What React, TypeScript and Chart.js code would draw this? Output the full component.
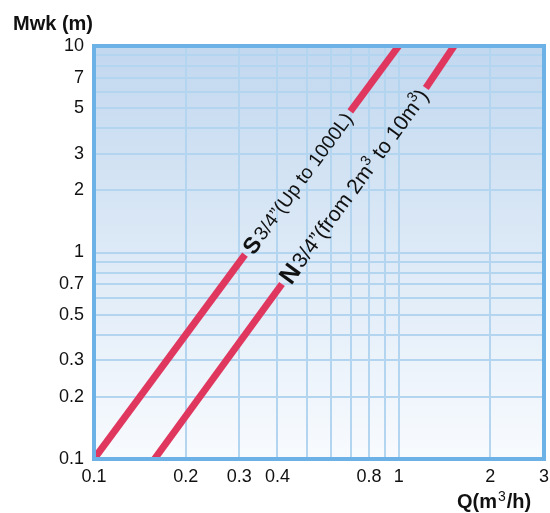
import React, { useEffect, useRef } from "react";
import Chart from "chart.js/auto";

// Grid lines and tick labels
const xGrid = [0.1, 0.2, 0.3, 0.4, 0.5, 0.6, 0.7, 0.8, 0.9, 1, 2, 3];
const xLabels = [0.1, 0.2, 0.3, 0.4, 0.8, 1, 2, 3];
const yGrid = [0.1, 0.2, 0.3, 0.4, 0.5, 0.6, 0.7, 0.8, 0.9, 1, 2, 3, 4, 5, 6, 7, 8, 9, 10];
const yLabels = [0.1, 0.2, 0.3, 0.5, 0.7, 1, 2, 3, 5, 7, 10];

// Curve S 3/4" (flow Q m3/h, head Mwk m), split around its label
const sLowQ = [0.1, 0.313];
const sLowH = [0.1, 0.977];
const sHighQ = [0.694, 1.0];
const sHighH = [4.82, 10];

// Curve N 3/4"
const nLowQ = [0.158, 0.414];
const nLowH = [0.1, 0.704];
const nHighQ = [1.228, 1.52];
const nHighH = [6.26, 10];

const RED = "#E0375F";

type Part = { t: string; bold?: boolean; sup?: boolean };
const sLabel: Part[] = [{ t: "S", bold: true }, { t: "3/4”(Up to 1000L)" }];
const nLabel: Part[] = [
  { t: "N", bold: true },
  { t: "3/4”(from 2m" },
  { t: "3", sup: true },
  { t: " to 10m" },
  { t: "3", sup: true },
  { t: ")" },
];

const pts = (q: number[], h: number[]) => q.map((x, i) => ({ x, y: h[i] }));

const FONT = "'Liberation Sans', Arial, sans-serif";

function fontFor(p: Part, size: number) {
  if (p.bold) return `bold ${size * 1.18}px ${FONT}`;
  if (p.sup) return `${size * 0.68}px ${FONT}`;
  return `${size}px ${FONT}`;
}

function drawLabel(ctx: CanvasRenderingContext2D, chart: any, q0: number, h0: number, q1: number, h1: number, parts: Part[]) {
  const xs = chart.scales.x, ys = chart.scales.y;
  const x0 = xs.getPixelForValue(q0), y0 = ys.getPixelForValue(h0);
  const x1 = xs.getPixelForValue(q1), y1 = ys.getPixelForValue(h1);
  const ang = Math.atan2(y1 - y0, x1 - x0);
  const len = Math.hypot(x1 - x0, y1 - y0);
  // fit text into the gap
  const measure = (size: number) => {
    let w = 0;
    parts.forEach((p) => {
      ctx.font = fontFor(p, size);
      w += ctx.measureText(p.t).width + (p.bold ? 2 : 0);
    });
    return w;
  };
  const size = 20 * (len - 8) / measure(20);
  ctx.save();
  ctx.translate(x0, y0);
  ctx.rotate(ang);
  ctx.fillStyle = "#111";
  ctx.textBaseline = "alphabetic";
  let cx = 4;
  const base = size * 0.36;
  parts.forEach((p) => {
    ctx.font = fontFor(p, size);
    const dy = p.sup ? base - size * 0.4 : base + (p.bold ? 1 : 0);
    ctx.fillText(p.t, cx, dy);
    cx += ctx.measureText(p.t).width + (p.bold ? 2 : 0);
  });
  ctx.restore();
}

const decor = {
  id: "decor",
  beforeDraw(chart: any) {
    const { ctx, chartArea: a } = chart;
    const g = ctx.createLinearGradient(0, a.top, 0, a.bottom);
    g.addColorStop(0, "#C2D8EF");
    g.addColorStop(1, "#F8FBFE");
    ctx.save();
    ctx.fillStyle = g;
    ctx.fillRect(a.left, a.top, a.right - a.left, a.bottom - a.top);
    ctx.restore();
  },
  afterDraw(chart: any) {
    const { ctx, chartArea: a } = chart;
    ctx.save();
    ctx.strokeStyle = "#6DB2E6";
    ctx.lineWidth = 4;
    ctx.strokeRect(a.left, a.top, a.right - a.left, a.bottom - a.top);
    // axis titles
    ctx.fillStyle = "#111";
    ctx.textBaseline = "alphabetic";
    ctx.font = `bold 20px ${FONT}`;
    ctx.fillText("Mwk (m)", 13, 30);
    let x = 457;
    const by = 508;
    ctx.fillText("Q(m", x, by);
    x += ctx.measureText("Q(m").width;
    ctx.font = `14px ${FONT}`;
    ctx.fillText("3", x + 1, by - 7);
    x += ctx.measureText("3").width + 2;
    ctx.font = `bold 20px ${FONT}`;
    ctx.fillText("/h)", x, by);
    ctx.restore();
    drawLabel(ctx, chart, sLowQ[1], sLowH[1], sHighQ[0], sHighH[0], sLabel);
    drawLabel(ctx, chart, nLowQ[1], nLowH[1], nHighQ[0], nHighH[0], nLabel);
  },
};

export default function App() {
  const ref = useRef<HTMLCanvasElement>(null);
  useEffect(() => {
    document.body.style.margin = "0";
    const lineDs = (data: any) => ({
      data,
      borderColor: RED,
      borderWidth: 7,
      pointRadius: 0,
      borderCapStyle: "butt" as const,
      fill: false,
      tension: 0,
    });
    const chart = new Chart(ref.current!, {
      type: "line",
      data: {
        datasets: [
          lineDs(pts(sLowQ, sLowH)),
          lineDs(pts(sHighQ, sHighH)),
          lineDs(pts(nLowQ, nLowH)),
          lineDs(pts(nHighQ, nHighH)),
        ],
      },
      options: {
        responsive: false,
        animation: false,
        events: [],
        layout: { padding: { top: 46, right: 0, left: 0, bottom: 0 } },
        plugins: { legend: { display: false }, tooltip: { enabled: false } },
        scales: {
          x: {
            type: "logarithmic",
            min: 0.1,
            max: 3,
            afterBuildTicks: (s: any) => { s.ticks = xGrid.map((v) => ({ value: v })); },
            afterFit: (s: any) => { s.height = 54; s.paddingRight = 6; },
            ticks: {
              autoSkip: false,
              maxRotation: 0,
              padding: 7,
              color: "#111",
              font: { family: FONT, size: 18 },
              callback: (v: any) => (xLabels.includes(Number(v)) ? String(v) : ""),
            },
            grid: { color: "#B3D5F0", lineWidth: 2, drawTicks: false },
            border: { display: false },
          },
          y: {
            type: "logarithmic",
            min: 0.1,
            max: 10,
            afterBuildTicks: (s: any) => { s.ticks = yGrid.map((v) => ({ value: v })); },
            afterFit: (s: any) => { s.width = 94; },
            ticks: {
              autoSkip: false,
              padding: 10,
              color: "#111",
              font: { family: FONT, size: 18 },
              callback: (v: any) => (yLabels.includes(Number(v)) ? String(v) : ""),
            },
            grid: { color: "#B3D5F0", lineWidth: 2, drawTicks: false },
            border: { display: false },
          },
        },
      },
      plugins: [decor],
    });
    return () => chart.destroy();
  }, []);
  return (
    <div style={{ position: "absolute", left: 0, top: 0, width: 550, height: 513 }}>
      <canvas ref={ref} width={550} height={513} />
    </div>
  );
}
